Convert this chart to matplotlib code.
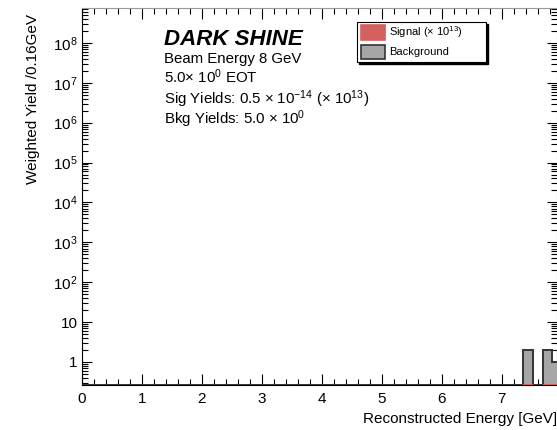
import numpy as np
import matplotlib.pyplot as plt
from matplotlib.patches import Rectangle
from matplotlib.ticker import MultipleLocator, LogLocator, FuncFormatter, NullFormatter

plt.rcParams['font.family'] = ['Liberation Sans', 'DejaVu Sans']
plt.rcParams['mathtext.fontset'] = 'custom'
plt.rcParams['mathtext.rm'] = 'Liberation Sans'
plt.rcParams['mathtext.it'] = 'Liberation Sans:italic'
plt.rcParams['mathtext.bf'] = 'Liberation Sans:bold'

# histogram binning: 50 bins of 0.16 GeV
bin_edges = np.linspace(0, 8, 51)

# non-empty bins (index) and weighted yields
bkg_bins = [46, 48, 49]
bkg_counts = [2.0, 2.0, 1.0]
sig_bins = [46, 48, 49]
sig_counts = [0.02, 0.02, 0.01]   # already scaled by 1e13

x_min, x_max = 0, 7.92
y_min, y_max = 0.265, 7.5e8

bkg = np.zeros(50)
bkg[bkg_bins] = bkg_counts
sig = np.zeros(50)
sig[sig_bins] = sig_counts

fig = plt.figure(figsize=(5.57, 4.30), dpi=100)
ax = fig.add_axes([82/557, 45/430, 475/557, 377/430])

# background, filled grey with dark outline
bkg_draw = np.where(bkg > 0, bkg, y_min)
ax.stairs(bkg_draw, bin_edges, baseline=y_min, fill=True, color='#a6a6a6', zorder=2)
ax.stairs(bkg_draw, bin_edges, baseline=y_min, fill=False,
          edgecolor='#333333', linewidth=1.4, zorder=3)

# signal sits below the y range, shows as a red line on the floor
for i in np.nonzero(sig)[0]:
    ax.plot([bin_edges[i], bin_edges[i + 1]], [y_min * 1.012] * 2,
            color='#d45f5f', linewidth=1.5, zorder=4, solid_capstyle='butt')

ax.set_yscale('log')
ax.set_xlim(x_min, x_max)
ax.set_ylim(y_min, y_max)

ax.xaxis.set_major_locator(MultipleLocator(1))
ax.xaxis.set_minor_locator(MultipleLocator(0.2))
ax.yaxis.set_major_locator(LogLocator(base=10, numticks=20))
ax.yaxis.set_minor_locator(LogLocator(base=10, subs=np.arange(2, 10), numticks=20))
ax.yaxis.set_minor_formatter(NullFormatter())


def log_label(v, pos):
    n = int(round(np.log10(v)))
    if n == 0:
        return '1'
    if n == 1:
        return '10'
    return r'$10^{%d}$' % n


ax.yaxis.set_major_formatter(FuncFormatter(log_label))
ax.tick_params(which='both', direction='in', top=True, right=True,
               labelsize=11, colors='black')
ax.tick_params(which='major', length=8, width=0.8)
ax.tick_params(which='minor', length=4.5, width=0.8)
ax.tick_params(axis='y', which='major', length=7)
ax.tick_params(axis='x', pad=5)
ax.tick_params(axis='y', pad=3)
for s in ['top', 'right']:
    ax.spines[s].set_color('#999999')

# axis titles, ROOT style: aligned to the axis ends
fig.text(1.0, 1 - 419/430, 'Reconstructed Energy [GeV]', fontsize=11,
         ha='right', va='center')
fig.text(33/557, 1 - 14/430, 'Weighted Yield /0.16GeV', fontsize=11,
         rotation=90, ha='center', va='top')

# labels
fig.text(164/557, 1 - 45/430, 'DARK SHINE', fontsize=16, fontweight='bold',
         style='italic', va='baseline')
info = ['Beam Energy 8 GeV',
        '5.0× 10$^{0}$ EOT',
        'Sig Yields: 0.5 × 10$^{-14}$ (× 10$^{13}$)',
        'Bkg Yields: 5.0 × 10$^{0}$']
for k, line in enumerate(info):
    fig.text(164/557, 1 - (63 + 20.3 * k)/430, line, fontsize=10.8, va='baseline')

# legend box with solid shadow
lx, ly, lw, lh = 357/557, 1 - 62/430, 129/557, 40/430
fig.patches.append(Rectangle((lx + 2/557, ly - 2/430), lw, lh, transform=fig.transFigure,
                             facecolor='black', edgecolor='black', zorder=5))
fig.patches.append(Rectangle((lx, ly), lw, lh, transform=fig.transFigure,
                             facecolor='white', edgecolor='black', linewidth=0.8, zorder=6))
entries = [('Signal (× 10$^{13}$)', '#d45f5f', '#d45f5f'),
           ('Background', '#a6a6a6', '#333333')]
for k, (lab, fc, ec) in enumerate(entries):
    cy = 1 - (32.5 + 19.5 * k)/430
    fig.patches.append(Rectangle((361/557, cy - 7/430), 24/557, 14/430,
                                 transform=fig.transFigure, facecolor=fc,
                                 edgecolor=ec, linewidth=1.2, zorder=7))
    fig.text(389/557, cy, lab, fontsize=8, va='center', zorder=8)

fig.savefig('out.png', dpi=100)
